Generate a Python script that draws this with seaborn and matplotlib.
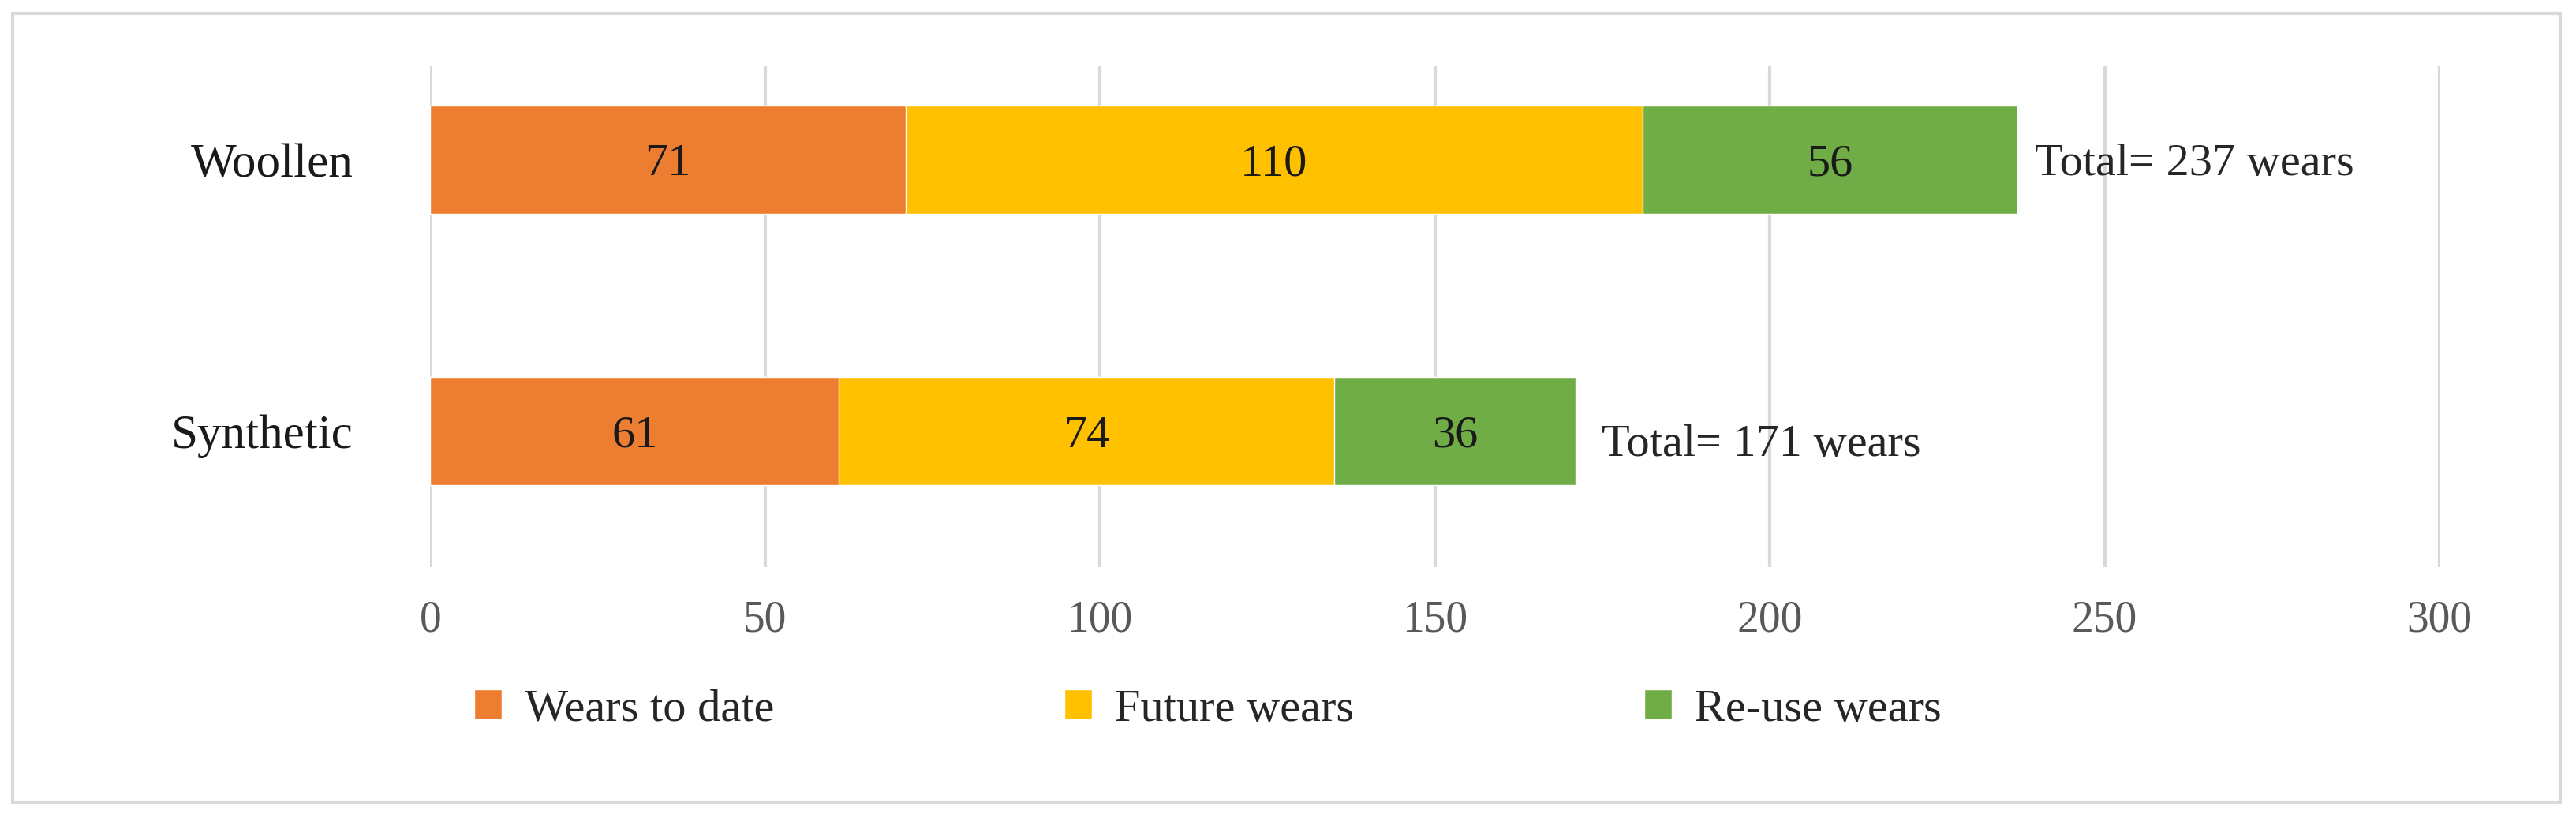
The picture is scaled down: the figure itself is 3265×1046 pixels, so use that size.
import numpy as np
import pandas as pd
import matplotlib.pyplot as plt
from matplotlib.patches import Rectangle, Patch
import seaborn as sns

categories = ["Woollen", "Synthetic"]
series = ["Wears to date", "Future wears", "Re-use wears"]
wears_to_date = [71, 61]
future_wears = [110, 74]
reuse_wears = [56, 36]
totals = [237, 171]
colors = ["#ED7D31", "#FFC000", "#70AD47"]

sns.set_theme(style="white")
plt.rcParams["font.family"] = ["Liberation Serif", "DejaVu Serif"]

fig = plt.figure(figsize=(32.65, 10.46), dpi=100)
ax = fig.add_axes([0.167, 0.313, 0.78, 0.607])

vals = np.array([wears_to_date, future_wears, reuse_wears], dtype=float)
cum = np.cumsum(vals, axis=0)

# draw the cumulative layers from the longest down so each segment shows
for i in range(len(series) - 1, -1, -1):
    df = pd.DataFrame({"cat": categories, "val": cum[i]})
    sns.barplot(data=df, x="val", y="cat", orient="h", color=colors[i],
                saturation=1, width=0.4, ax=ax, zorder=3)

for j in range(len(categories)):
    left = 0
    for i in range(len(series)):
        ax.text(left + vals[i, j] / 2, j, f"{int(vals[i, j])}", ha="center",
                va="center_baseline", fontsize=42, color="#1a1a1a", zorder=4)
        left += vals[i, j]

ax.annotate(f"Total= {totals[0]} wears", (cum[-1, 0], 0), xytext=(16, 0),
            textcoords="offset points", va="center_baseline", fontsize=42)
ax.annotate(f"Total= {totals[1]} wears", (cum[-1, 1], 1), xytext=(24, -8),
            textcoords="offset points", va="center_baseline", fontsize=42)

ax.set_xlim(0, 300)
ax.set_ylim(1.5, -0.345)
ax.set_xticks(range(0, 301, 50))
ax.grid(axis="x", color="#d9d9d9", linewidth=3, zorder=0)
ax.set_xlabel("")
ax.set_ylabel("")
ax.tick_params(axis="x", labelsize=40, labelcolor="#595959", length=0, pad=30)
ax.tick_params(axis="y", labelsize=44, labelcolor="#1a1a1a", length=0, pad=70)
for s in ax.spines.values():
    s.set_visible(False)

handles = [Patch(facecolor=c, label=s) for c, s in zip(colors, series)]
fig.legend(handles=handles, loc="center left", bbox_to_anchor=(0.168, 0.14),
           ncol=3, frameon=False, fontsize=42, columnspacing=6.3,
           handlelength=0.6, handleheight=0.6, handletextpad=0.5)

fig.patches.append(Rectangle((0.005, 0.028), 0.989, 0.956, transform=fig.transFigure,
                             fill=False, edgecolor="#d9d9d9", linewidth=3))

fig.savefig("out.png", dpi=100)
